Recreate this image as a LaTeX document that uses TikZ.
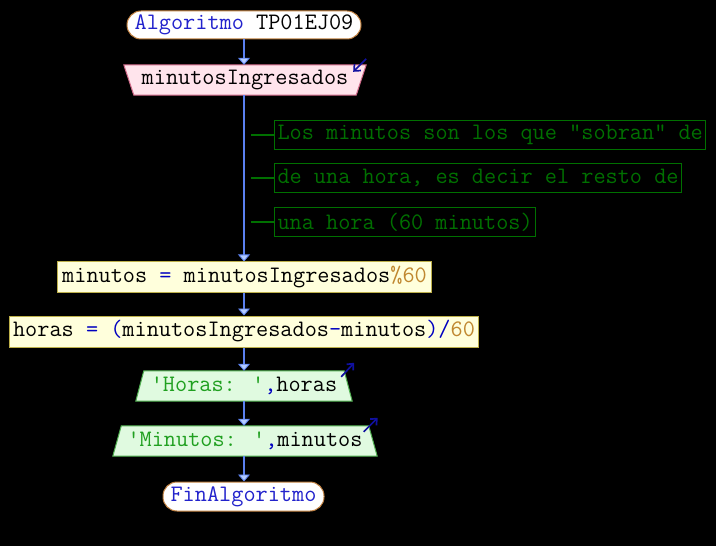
\documentclass[tikz,border=0pt]{standalone}
\usepackage{fontspec}
\usetikzlibrary{arrows.meta,calc}
\definecolor{flowc}{HTML}{5A80F0}
\definecolor{flowtip}{HTML}{B4CCFF}
\definecolor{termb}{HTML}{C08040}
\definecolor{kwc}{HTML}{2222CC}
\definecolor{inf}{HTML}{FFE4EC}
\definecolor{inb}{HTML}{D06888}
\definecolor{procf}{HTML}{FFFFDC}
\definecolor{procb}{HTML}{BDB04A}
\definecolor{outf}{HTML}{E0FAE0}
\definecolor{outb}{HTML}{50B050}
\definecolor{numc}{HTML}{C08830}
\definecolor{strc}{HTML}{20A020}
\definecolor{opc}{HTML}{0000C0}
\definecolor{cmtc}{HTML}{007000}
\definecolor{iconc}{HTML}{1010A0}
\newcommand\kwd[1]{\textcolor{kwc}{#1}}
\newcommand\opr[1]{\textcolor{opc}{#1}}
\newcommand\numr[1]{\textcolor{numc}{#1}}
\newcommand\strr[1]{\textcolor{strc}{#1}}
\pgfdeclarelayer{bgl}
\pgfdeclarelayer{shp}
\pgfsetlayers{bgl,shp,main}
\tikzset{
  term/.style={draw=termb, fill=white, line width=1bp, rounded corners=14bp, minimum height=28bp, inner sep=0pt},
  iobox/.style={minimum height=30bp, inner sep=0pt},
  proc/.style={draw=procb, fill=procf, line width=1bp, minimum height=30bp, inner xsep=2bp, inner ysep=0pt},
  cmt/.style={draw=cmtc, line width=1bp, text=cmtc, minimum height=29bp, inner xsep=3bp, inner ysep=0pt, anchor=west},
  cmtline/.style={draw=cmtc, line width=1.5bp},
  flowline/.style={draw=flowc, line width=2bp, -{Triangle[width=12bp,length=7bp,line width=0.8bp,fill=flowtip]}},
  inshape/.style={fill=inf, draw=inb, line width=1bp},
  outshape/.style={fill=outf, draw=outb, line width=1bp},
  icon/.style={draw=iconc, line width=1.7bp, -{Straight Barb[length=5bp,width=9bp]}}
}
\begin{document}
\begin{tikzpicture}[x=1bp,y=-1bp, font=\ttfamily\fontsize{23.6bp}{28bp}\selectfont]
\begin{pgfonlayer}{bgl}
\fill[black] (0,0) rectangle (716,546);
\end{pgfonlayer}
\useasboundingbox (0,0) rectangle (716,546);

% nodes
\node[term, minimum width=234bp] (start) at (244,25) {\kwd{Algoritmo} TP01EJ09};
\node[iobox, minimum width=222bp] (in) at (245,80) {minutosIngresados};
\node[cmt] (c1) at (274,135) {Los minutos son los que \textquotedbl sobran\textquotedbl{} de};
\node[cmt] (c2) at (274,178) {de una hora, es decir el resto de};
\node[cmt] (c3) at (274,222) {una hora (60 minutos)};
\node[proc, minimum width=373bp] (p1) at (244.5,277) {minutos \opr{=} minutosIngresados\numr{\%60}};
\node[proc, minimum width=468bp, minimum height=31bp] (p2) at (244,331.5) {horas \opr{= (}minutosIngresados\opr{-}minutos\opr{)/}\numr{60}};
\node[iobox, minimum width=200bp] (o1) at (244,386) {\strr{\textquotesingle Horas: \textquotesingle}\opr{,}horas};
\node[iobox, minimum width=247bp] (o2) at (245,441) {\strr{\textquotesingle Minutos: \textquotesingle}\opr{,}minutos};
\node[term, minimum width=161bp, minimum height=29bp] (end) at (243.5,496.5) {\kwd{FinAlgoritmo}};

% shapes behind the texts
\begin{pgfonlayer}{shp}
\path[inshape] ($(in.north west)+(-10,0)$) -- ($(in.north east)+(10,0)$) -- (in.south east) -- (in.south west) -- cycle;
\path[outshape] (o1.north west) -- (o1.north east) -- ($(o1.south east)+(8,0)$) -- ($(o1.south west)+(-8,0)$) -- cycle;
\path[outshape] (o2.north west) -- (o2.north east) -- ($(o2.south east)+(8.5,0)$) -- ($(o2.south west)+(-8.5,0)$) -- cycle;
\end{pgfonlayer}

% icons
\draw[icon] ($(in.north east)+(10,-6)$) -- ($(in.north east)+(-3,7)$);
\draw[icon] ($(o1.north east)+(-3,6)$) -- ($(o1.north east)+(10,-8)$);
\draw[icon] ($(o2.north east)+(-5,6)$) -- ($(o2.north east)+(9,-8)$);

% comment links
\coordinate (k1) at ($(c1.west)+(-23,0)$);
\coordinate (k2) at ($(c2.west)+(-23,0)$);
\coordinate (k3) at ($(c3.west)+(-23,0)$);
\draw[cmtline] (k1) -- (c1.west);
\draw[cmtline] (k2) -- (c2.west);
\draw[cmtline] (k3) -- (c3.west);

% flow
\draw[flowline] (start.south) -- (start.south |- in.north);
\draw[flowline] (start.south |- in.south) -- (start.south |- p1.north);
\draw[flowline] (start.south |- p1.south) -- (start.south |- p2.north);
\draw[flowline] (start.south |- p2.south) -- (start.south |- o1.north);
\draw[flowline] (start.south |- o1.south) -- (start.south |- o2.north);
\draw[flowline] (start.south |- o2.south) -- (start.south |- end.north);
\end{tikzpicture}
\end{document}
